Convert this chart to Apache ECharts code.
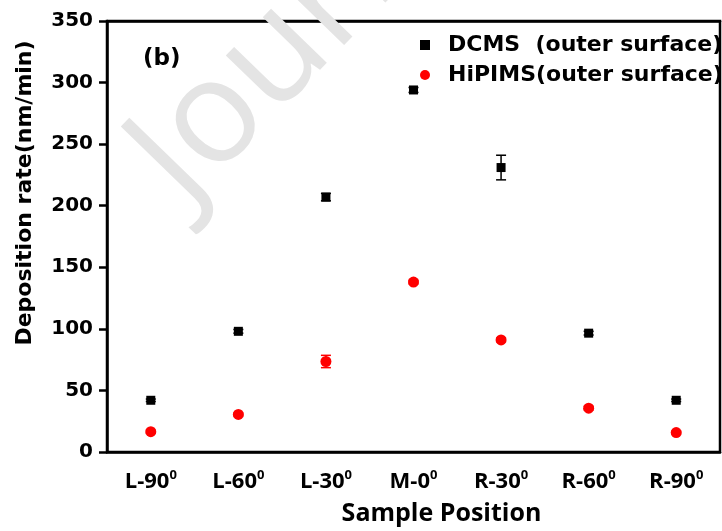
<!DOCTYPE html>
<html>
<head>
<meta charset="utf-8">
<script src="https://cdn.jsdelivr.net/npm/echarts@6/dist/echarts.min.js"></script>
<style>html,body{margin:0;padding:0;background:#fff;}#c{width:722px;height:531px;}</style>
</head>
<body>
<div id="c"></div>
<script>
const categories = ['L-90', 'L-60', 'L-30', 'M-0', 'R-30', 'R-60', 'R-90'];
const degreeMark = '0';
const yTicks = [0, 50, 100, 150, 200, 250, 300, 350];
const seriesNames = ['DCMS  (outer surface)', 'HiPIMS(outer surface)'];
const dcmsValues = [42, 98, 207, 294, 231, 96.5, 42];
const dcmsErrors = [1, 1.5, 3, 2, 10, 1.5, 1];
const hipimsValues = [16.5, 30.5, 73.5, 138, 91, 35.6, 15.8];
const hipimsErrors = [1, 1, 5, 1.5, 1.5, 1.5, 1];
const panelLabel = '(b)';
const yTitle = 'Deposition rate(nm/min)';
const xTitle = 'Sample Position';
const watermarkText = 'Journal Pre-proof';

const chart = echarts.init(document.getElementById('c'), null, {renderer: 'canvas'});

function errorSeries(values, errors, color) {
  return {
    type: 'custom',
    silent: true,
    z: 1,
    data: values.map((v, i) => [i, v - errors[i], v + errors[i]]),
    renderItem: function (params, api) {
      const x = api.value(0);
      const lo = api.coord([x, api.value(1)]);
      const hi = api.coord([x, api.value(2)]);
      const w = 5;
      const style = {stroke: color, lineWidth: 1.5};
      return {
        type: 'group',
        children: [
          {type: 'line', shape: {x1: lo[0], y1: lo[1], x2: hi[0], y2: hi[1]}, style: style},
          {type: 'line', shape: {x1: lo[0] - w, y1: lo[1], x2: lo[0] + w, y2: lo[1]}, style: style},
          {type: 'line', shape: {x1: hi[0] - w, y1: hi[1], x2: hi[0] + w, y2: hi[1]}, style: style}
        ]
      };
    }
  };
}

const boldWide = '"DejaVu Sans", Verdana, sans-serif';
const boldCal = '"Open Sans", Lato, sans-serif';

const option = {
  backgroundColor: '#fff',
  animation: false,
  grid: {left: 107, right: 2, top: 21, bottom: 78, show: true, borderColor: '#000', borderWidth: 2.5, containLabel: false},
  legend: {
    orient: 'vertical',
    left: 415,
    top: 27,
    itemGap: 4,
    itemWidth: 10,
    itemHeight: 10,
    data: [
      {name: seriesNames[0], icon: 'rect'},
      {name: seriesNames[1], icon: 'circle'}
    ],
    textStyle: {fontFamily: boldWide, fontWeight: 'bold', fontSize: 22, lineHeight: 26, color: '#000', padding: [0, 0, 0, 13]}
  },
  xAxis: [{
    type: 'category',
    data: categories,
    boundaryGap: true,
    name: xTitle,
    nameLocation: 'middle',
    nameGap: 49,
    nameTextStyle: {fontFamily: boldCal, fontWeight: 'bold', fontSize: 25, color: '#000', padding: [0, 0, 0, 56]},
    axisLine: {lineStyle: {color: '#000', width: 2.5}},
    axisTick: {alignWithLabel: true, length: 9, lineStyle: {color: '#000', width: 2.5}},
    axisLabel: {
      interval: 0,
      margin: 17,
      formatter: function (v) { return '{a|' + v + '}{s|' + degreeMark + '}'; },
      rich: {
        a: {fontFamily: boldCal, fontWeight: 'bold', fontSize: 22, color: '#000'},
        s: {fontFamily: boldCal, fontWeight: 'bold', fontSize: 13, color: '#000', padding: [0, 0, 13, 0]}
      }
    },
    splitLine: {show: false}
  }, {
    type: 'category',
    data: categories,
    position: 'top',
    boundaryGap: true,
    axisLine: {lineStyle: {color: '#000', width: 2.5}},
    axisTick: {inside: true, alignWithLabel: true, length: 4, lineStyle: {color: '#000', width: 1.5}},
    axisLabel: {show: false}
  }],
  yAxis: [{
    type: 'value',
    min: yTicks[0],
    max: yTicks[yTicks.length - 1],
    interval: 50,
    axisLine: {show: true, lineStyle: {color: '#000', width: 2.5}},
    axisTick: {show: true, length: 8, lineStyle: {color: '#000', width: 2.5}},
    axisLabel: {margin: 14, fontFamily: boldWide, fontWeight: 'bold', fontSize: 20, color: '#000'},
    splitLine: {show: false}
  }],
  graphic: [
    {type: 'text', left: 143, top: 48, z: 10, style: {text: panelLabel, font: 'bold 23px "DejaVu Sans"', fill: '#000'}},
    {type: 'text', x: 25, y: 193, rotation: Math.PI / 2, z: 10,
     style: {text: yTitle, font: 'bold 22px "DejaVu Sans"', fill: '#000', textAlign: 'center', textVerticalAlign: 'middle'}},
    {type: 'text', x: 208, y: 230, rotation: 0.8, z: 100, silent: true,
     style: {text: watermarkText, font: '145px "Open Sans"', fill: '#e4e4e4', textVerticalAlign: 'bottom'}}
  ],
  series: [
    errorSeries(dcmsValues, dcmsErrors, '#000'),
    errorSeries(hipimsValues, hipimsErrors, '#ff0000'),
    {name: seriesNames[0], type: 'scatter', symbol: 'rect', symbolSize: 9, itemStyle: {color: '#000', opacity: 1}, z: 3, data: dcmsValues},
    {name: seriesNames[1], type: 'scatter', symbol: 'circle', symbolSize: 11, itemStyle: {color: '#ff0000', opacity: 1}, z: 3, data: hipimsValues}
  ]
};
chart.setOption(option);
</script>
</body>
</html>
